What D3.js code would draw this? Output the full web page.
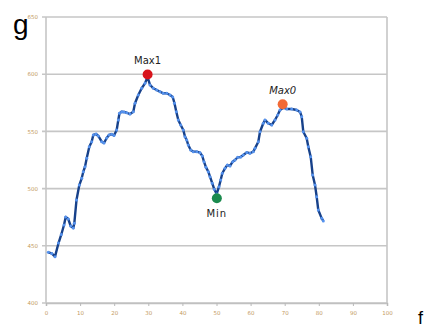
<!DOCTYPE html>
<html>
<head>
<meta charset="utf-8">
<script src="https://cdn.jsdelivr.net/npm/d3@7"></script>
<style>
  html, body { margin: 0; padding: 0; background: #fff; }
  svg { display: block; }
</style>
</head>
<body>
<svg id="chart" width="429" height="327"></svg>
<script>
// Series: position along the track and measured value
const xs = [0.67,1.67,2.64,3.67,4.49,5.28,5.78,6.54,7.24,8.01,8.30,8.94,9.77,10.47,10.94,11.44,11.94,12.70,13.40,13.87,14.66,15.34,16.33,17.01,17.80,18.48,19.27,19.94,20.73,21.20,21.55,22.20,22.87,23.67,24.63,25.60,26.10,27.07,28.06,29.03,29.77,30.50,31.47,32.46,33.43,34.40,35.40,36.36,37.16,37.68,38.21,38.80,39.50,40.26,40.76,41.26,41.73,42.43,43.20,44.19,45.16,45.84,46.33,46.92,47.60,48.09,48.77,49.35,50.06,50.73,51.23,51.70,52.49,53.17,53.96,54.75,55.43,56.22,57.10,57.86,58.86,59.82,60.79,61.29,62.26,62.76,63.72,64.22,65.19,66.19,67.16,67.95,68.62,69.59,70.59,72.05,73.52,74.49,74.99,75.45,76.45,76.92,77.62,78.21,78.89,79.38,79.85,80.85,81.32];
const values = [444.3,443.3,440.5,452.4,459.9,468.2,475.2,473.4,467.3,465.6,469.7,490.0,503.1,509.0,514.8,519.1,526.5,536.6,541.0,546.9,547.7,546.0,541.0,539.9,544.2,546.9,547.5,546.4,551.2,560.0,565.8,567.2,567.0,566.3,565.2,567.2,574.6,581.8,587.7,592.0,597.6,590.6,587.7,586.2,584.7,583.3,583.3,581.8,580.1,574.6,567.2,560.0,555.6,551.2,545.4,542.5,538.1,533.7,532.3,532.3,531.4,528.5,523.5,518.6,514.8,510.4,504.6,499.4,495.3,501.7,507.5,513.4,517.7,520.6,519.8,523.5,525.0,527.4,527.6,529.4,531.6,530.9,532.3,535.2,541.0,549.7,557.1,560.0,557.1,555.6,560.0,564.3,568.7,570.7,569.6,569.6,568.7,567.0,562.9,549.7,544.0,536.6,527.9,511.9,503.1,492.9,481.3,474.0,471.7];

// Highlighted extremes
const extremeNames = ["Max1", "Min", "Max0"];
const extremeX = [29.8, 50.1, 69.4];
const extremeY = [599.8, 491.5, 573.7];
const extremeColors = ["#d8141c", "#1b8a4e", "#f26a36"];

// Axis ticks
const yTicks = [400, 450, 500, 550, 600, 650];
const xTicks = [0, 10, 20, 30, 40, 50, 60, 70, 80, 90, 100];

const svg = d3.select("#chart");
const plotLeft = 46, plotRight = 387, plotTop = 17, plotBottom = 303;

const x = d3.scaleLinear().domain([0, 100]).range([plotLeft, plotRight]);
const y = d3.scaleLinear().domain([400, 650]).range([plotBottom, plotTop]);

// Horizontal grid lines
svg.append("g")
  .selectAll("line")
  .data(yTicks)
  .join("line")
  .attr("x1", plotLeft - 4).attr("x2", plotRight)
  .attr("y1", d => y(d)).attr("y2", d => y(d))
  .attr("stroke", "#c6c6c6").attr("stroke-width", 1.6);

// Plot frame (left, right)
svg.append("line").attr("x1", plotLeft).attr("x2", plotLeft).attr("y1", plotTop).attr("y2", plotBottom)
  .attr("stroke", "#c6c6c6").attr("stroke-width", 1.6);
svg.append("line").attr("x1", plotRight).attr("x2", plotRight).attr("y1", plotTop).attr("y2", plotBottom)
  .attr("stroke", "#c6c6c6").attr("stroke-width", 1.6);

// Bottom axis
const xAxis = d3.axisBottom(x).tickValues(xTicks).tickSize(3).tickPadding(5);
const gx = svg.append("g").attr("transform", `translate(0,${plotBottom})`).call(xAxis);
gx.select(".domain").attr("stroke", "#c0c0c0").attr("stroke-width", 1.6);
gx.selectAll(".tick line").attr("stroke", "#b8b8b8");
gx.selectAll(".tick text")
  .attr("font-family", "DejaVu Sans, sans-serif").attr("font-size", 5.5)
  .attr("fill", "#c49a62");

// Left axis labels
const yAxis = d3.axisLeft(y).tickValues(yTicks).tickSize(0).tickPadding(8);
const gy = svg.append("g").attr("transform", `translate(${plotLeft},0)`).call(yAxis);
gy.select(".domain").remove();
gy.selectAll(".tick text")
  .attr("font-family", "DejaVu Sans, sans-serif").attr("font-size", 5.5)
  .attr("fill", "#c49a62");

// Data line
const pts = xs.map((d, i) => [d, values[i]]);
svg.append("path")
  .datum(pts)
  .attr("fill", "none")
  .attr("stroke", "#17418a")
  .attr("stroke-width", 2.4)
  .attr("stroke-linejoin", "round")
  .attr("d", d3.line().x(d => x(d[0])).y(d => y(d[1])));

svg.append("g")
  .selectAll("circle")
  .data(pts)
  .join("circle")
  .attr("cx", d => x(d[0])).attr("cy", d => y(d[1]))
  .attr("r", 1.5)
  .attr("fill", "#5592ee");

// Extremes and their labels
const ext = extremeNames.map((n, i) => ({ n, x: extremeX[i], y: extremeY[i], c: extremeColors[i] }));
svg.append("g")
  .selectAll("circle")
  .data(ext)
  .join("circle")
  .attr("cx", d => x(d.x)).attr("cy", d => y(d.y))
  .attr("r", 5)
  .attr("fill", d => d.c);

svg.append("g")
  .selectAll("text")
  .data(ext)
  .join("text")
  .attr("x", d => x(d.x))
  .attr("y", d => d.n === "Min" ? y(d.y) + 19 : y(d.y) - 10)
  .attr("text-anchor", "middle")
  .attr("font-family", "DejaVu Sans, sans-serif")
  .attr("font-size", 10)
  .attr("font-style", d => d.n === "Max0" ? "italic" : "normal")
  .attr("letter-spacing", d => d.n === "Min" ? 1 : 0)
  .attr("fill", "#222")
  .text(d => d.n);

// Corner letters
svg.append("text").attr("x", 13).attr("y", 34)
  .attr("font-family", "Liberation Sans, Arial, sans-serif").attr("font-size", 28)
  .attr("fill", "#000").text("g");
svg.append("text").attr("x", 418).attr("y", 324)
  .attr("font-family", "Liberation Sans, Arial, sans-serif").attr("font-size", 18)
  .attr("fill", "#000").text("f");
</script>
</body>
</html>
